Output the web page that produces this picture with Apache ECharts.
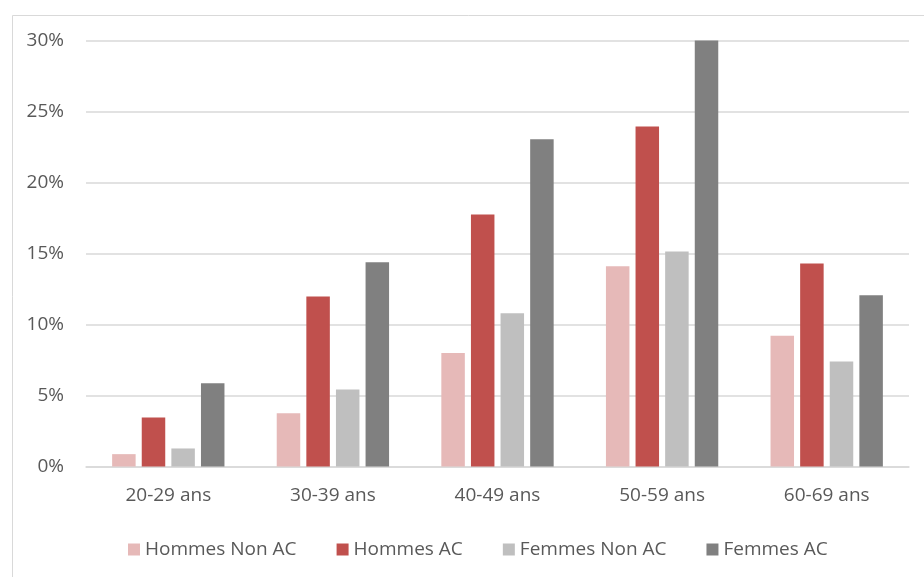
<!DOCTYPE html>
<html>
<head>
<meta charset="utf-8">
<script src="https://cdn.jsdelivr.net/npm/echarts@6/dist/echarts.min.js"></script>
<style>
  html, body { margin: 0; padding: 0; background: #ffffff; }
  #chart { width: 924px; height: 577px; }
</style>
</head>
<body>
<div id="chart"></div>
<script>
// Age groups on the category axis
const categories = ['20-29 ans', '30-39 ans', '40-49 ans', '50-59 ans', '60-69 ans'];

// Shares per group, in percent
const hommesNonAC = [0.87, 3.75, 8.0, 14.1, 9.2];
const hommesAC    = [3.45, 11.97, 17.75, 23.94, 14.3];
const femmesNonAC = [1.27, 5.42, 10.8, 15.14, 7.39];
const femmesAC    = [5.87, 14.39, 23.05, 30.0, 12.06];

// Y-axis range and step (percent)
const yMin = 0, yMax = 30, yStep = 5;

const textColor = '#595959';
const gridColor = '#d9d9d9';
const fontFamily = '"Open Sans", "Liberation Sans", sans-serif';

const chart = echarts.init(document.getElementById('chart'), null, { renderer: 'canvas' });

function barSeries(name, data, color) {
  return {
    name: name,
    type: 'bar',
    data: data,
    barWidth: 23.5,
    barGap: '26%',
    itemStyle: { color: color },
    emphasis: { disabled: true }
  };
}

chart.setOption({
  animation: false,
  backgroundColor: '#ffffff',
  textStyle: { fontFamily: fontFamily },
  graphic: [{
    type: 'rect',
    left: 10, top: 13,
    shape: { width: 1000, height: 1000 },
    style: { fill: 'none', stroke: gridColor, lineWidth: 1 },
    silent: true
  }],
  grid: { left: 86, right: 15, top: 40.5, bottom: 110.5, containLabel: false },
  legend: {
    left: 123,
    top: 535,
    icon: 'rect',
    itemWidth: 12,
    itemHeight: 12,
    itemGap: 40,
    textStyle: { color: textColor, fontSize: 19, fontFamily: fontFamily },
    data: ['Hommes Non AC', 'Hommes AC', 'Femmes Non AC', 'Femmes AC']
  },
  xAxis: {
    type: 'category',
    data: categories,
    axisLine: { lineStyle: { color: gridColor, width: 1.5 } },
    axisTick: { show: false },
    axisLabel: { color: textColor, fontSize: 19, margin: 20, fontFamily: fontFamily }
  },
  yAxis: {
    type: 'value',
    min: yMin, max: yMax, interval: yStep,
    axisLine: { show: false },
    axisTick: { show: false },
    splitLine: { lineStyle: { color: gridColor, width: 1.5 } },
    axisLabel: { color: textColor, fontSize: 19, margin: 22, fontFamily: fontFamily, formatter: '{value}%' }
  },
  series: [
    barSeries('Hommes Non AC', hommesNonAC, '#e6b9b8'),
    barSeries('Hommes AC', hommesAC, '#c0504d'),
    barSeries('Femmes Non AC', femmesNonAC, '#bfbfbf'),
    barSeries('Femmes AC', femmesAC, '#808080')
  ]
});
</script>
</body>
</html>
